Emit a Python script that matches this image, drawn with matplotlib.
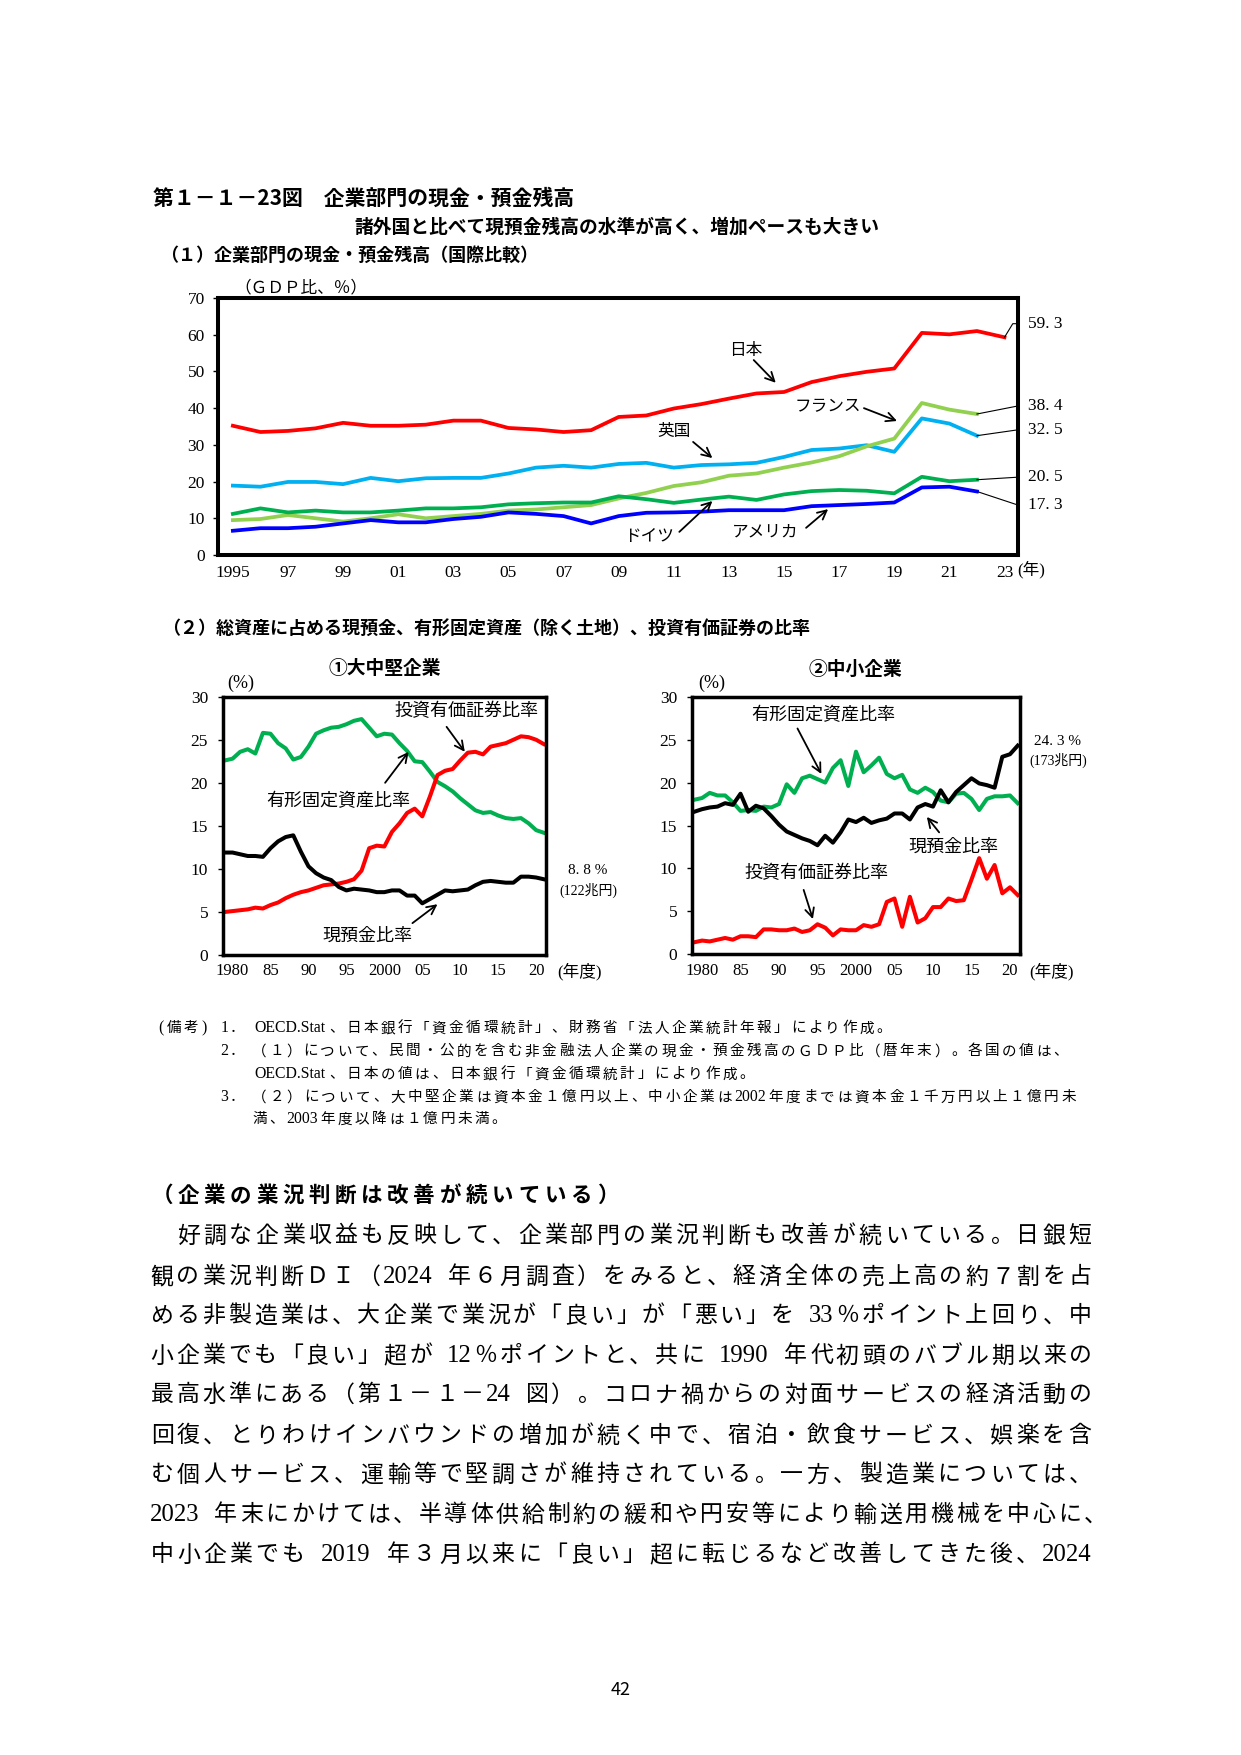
import matplotlib
matplotlib.use("Agg")
import matplotlib.pyplot as plt

plt.rcParams['font.family'] = ['Liberation Serif', 'Noto Sans CJK JP']
GOTHIC = ['Noto Sans CJK JP', 'DejaVu Sans']
MINCHO = ['Liberation Serif', 'Noto Sans CJK JP']

W, H = 1241, 1755

# (1) cash & deposits of the corporate sector, % of GDP (calendar year end)
years_intl = list(range(1995, 2024))
japan = [35.2, 33.5, 33.8, 34.5, 36.0, 35.2, 35.2, 35.5, 36.6, 36.6,
         34.6, 34.2, 33.5, 34.0, 37.6, 38.0, 39.9, 41.1, 42.6, 44.0,
         44.4, 47.1, 48.7, 49.9, 50.8, 60.5, 60.1, 61.0, 59.3]
uk = [18.9, 18.6, 19.9, 19.9, 19.3, 21.0, 20.1, 20.9, 21.0, 21.0,
      22.2, 23.8, 24.3, 23.8, 24.8, 25.1, 23.8, 24.5, 24.7, 25.1,
      26.7, 28.6, 29.0, 29.9, 28.1, 37.2, 35.8, 32.5]
france = [9.5, 9.8, 10.9, 10.0, 9.1, 10.0, 11.1, 10.0, 10.6, 11.2,
          12.1, 12.4, 13.0, 13.6, 15.4, 16.9, 18.8, 19.8, 21.6, 22.2,
          23.8, 25.2, 26.9, 29.6, 31.7, 41.4, 39.6, 38.4]
germany = [11.2, 12.7, 11.6, 12.1, 11.6, 11.6, 12.1, 12.7, 12.7, 13.0,
           13.8, 14.1, 14.3, 14.3, 16.0, 15.2, 14.2, 15.1, 15.9, 15.0,
           16.5, 17.4, 17.7, 17.5, 16.8, 21.3, 20.1, 20.5]
usa = [6.6, 7.3, 7.3, 7.7, 8.6, 9.5, 8.9, 8.9, 9.8, 10.4,
       11.6, 11.2, 10.6, 8.6, 10.6, 11.5, 11.6, 11.8, 12.2, 12.2,
       12.2, 13.3, 13.6, 13.9, 14.3, 18.4, 18.6, 17.3]
intl_ticks = list(range(1995, 2024, 2))
intl_ticklabels = ['1995'] + ['%02d' % (y % 100) for y in intl_ticks[1:]]

# (2) share of total assets, fiscal years 1980-2022
years_fy = list(range(1980, 2023))
large_cash = [11.9, 11.9, 11.7, 11.5, 11.5, 11.4, 12.4, 13.2, 13.7, 13.9,
              12.0, 10.3, 9.5, 9.0, 8.7, 7.9, 7.5, 7.7, 7.6, 7.5,
              7.3, 7.3, 7.5, 7.5, 6.9, 6.9, 6.0, 6.5, 7.0, 7.5,
              7.4, 7.5, 7.6, 8.1, 8.5, 8.6, 8.5, 8.4, 8.4, 9.1,
              9.1, 9.0, 8.8]
large_fixed = [22.6, 22.8, 23.6, 23.9, 23.4, 25.8, 25.7, 24.6, 24.0, 22.7,
               23.0, 24.2, 25.7, 26.1, 26.4, 26.5, 26.8, 27.2, 27.4, 26.4,
               25.4, 25.7, 25.6, 24.6, 23.7, 22.5, 22.4, 21.3, 20.1, 19.6,
               19.0, 18.2, 17.5, 16.8, 16.5, 16.6, 16.2, 15.9, 15.8, 15.9,
               15.3, 14.5, 14.2]
large_sec = [5.0, 5.1, 5.2, 5.3, 5.5, 5.4, 5.8, 6.1, 6.6, 7.0,
             7.3, 7.5, 7.8, 8.1, 8.2, 8.3, 8.5, 8.8, 9.8, 12.4,
             12.7, 12.6, 14.3, 15.3, 16.5, 17.0, 16.1, 18.4, 20.9, 21.4,
             21.6, 22.6, 23.5, 23.6, 23.3, 24.2, 24.4, 24.6, 25.0, 25.4,
             25.3, 25.0, 24.5]
small_cash = [16.6, 16.9, 17.1, 17.2, 17.6, 17.4, 18.7, 16.6, 17.3, 17.0,
              16.1, 15.1, 14.3, 13.9, 13.5, 13.2, 12.7, 13.8, 13.0, 14.2,
              15.7, 15.4, 15.9, 15.3, 15.6, 15.8, 16.4, 16.4, 15.7, 17.1,
              17.5, 17.2, 19.1, 17.7, 18.9, 19.7, 20.5, 19.9, 19.7, 19.4,
              23.0, 23.3, 24.3]
small_fixed = [18.0, 18.2, 18.8, 18.5, 18.5, 17.7, 16.7, 16.8, 16.7, 17.2,
               17.1, 17.5, 19.8, 18.8, 20.5, 20.8, 20.4, 20.0, 21.7, 22.6,
               19.6, 23.6, 21.2, 22.0, 22.9, 21.0, 20.5, 20.9, 19.2, 18.8,
               19.4, 18.9, 17.9, 17.7, 18.7, 18.8, 18.1, 16.8, 18.1, 18.4,
               18.4, 18.5, 17.6]
small_sec = [1.4, 1.6, 1.5, 1.7, 1.9, 1.7, 2.1, 2.1, 2.0, 2.9,
             2.9, 2.8, 2.8, 3.0, 2.6, 2.8, 3.5, 3.1, 2.2, 2.9,
             2.8, 2.8, 3.4, 3.2, 3.5, 6.1, 6.5, 3.2, 6.7, 3.7,
             4.2, 5.5, 5.5, 6.5, 6.2, 6.3, 8.7, 11.2, 8.8, 10.4,
             7.1, 7.8, 6.9]
fy_ticks = list(range(1980, 2021, 5))
fy_ticklabels = ['1980', '85', '90', '95', '2000', '05', '10', '15', '20']

notes = [
    ('(備考)', '1．', 'OECD.Stat、日本銀行「資金循環統計」、財務省「法人企業統計年報」により作成。'),
    ('', '2．', '（１）について、民間・公的を含む非金融法人企業の現金・預金残高のＧＤＰ比（暦年末）。各国の値は、'),
    ('', '', 'OECD.Stat、日本の値は、日本銀行「資金循環統計」により作成。'),
    ('', '3．', '（２）について、大中堅企業は資本金１億円以上、中小企業は2002年度までは資本金１千万円以上１億円未'),
    ('', '', '満、2003年度以降は１億円未満。'),
]

body_heading = '（企業の業況判断は改善が続いている）'
body_lines = [
    '　好調な企業収益も反映して、企業部門の業況判断も改善が続いている。日銀短',
    '観の業況判断ＤＩ（2024 年６月調査）をみると、経済全体の売上高の約７割を占',
    'める非製造業は、大企業で業況が「良い」が「悪い」を 33％ポイント上回り、中',
    '小企業でも「良い」超が 12％ポイントと、共に 1990 年代初頭のバブル期以来の',
    '最高水準にある（第１－１－24 図）。コロナ禍からの対面サービスの経済活動の',
    '回復、とりわけインバウンドの増加が続く中で、宿泊・飲食サービス、娯楽を含',
    'む個人サービス、運輸等で堅調さが維持されている。一方、製造業については、',
    '2023 年末にかけては、半導体供給制約の緩和や円安等により輸送用機械を中心に、',
    '中小企業でも 2019 年３月以来に「良い」超に転じるなど改善してきた後、2024',
]

RED, BLUE, SKY, LIME, GREEN = '#FF0000', '#0000FF', '#00B0F0', '#92D050', '#00B050'

fig = plt.figure(figsize=(W / 100, H / 100), dpi=100)


def box(l, t, r, b):
    return [l / W, 1 - b / H, (r - l) / W, (b - t) / H]


def ftext(x, y, s, size, **kw):
    fig.text(x / W, 1 - y / H, s, fontsize=size, **kw)


def tokens(s):
    # split into full-width chars, single spaces and runs of ascii
    out = []
    for c in s:
        half = ord(c) < 0x2000 and c != ' '
        if half and out and out[-1][1] == 'a':
            out[-1][0] += c
        else:
            out.append([c, 'a' if half else ('s' if c == ' ' else 'f')])
    return out


def char_line(x0, y, s, size, pitch=None, x1=None, family=MINCHO, weight='normal'):
    # lay out one line on a fixed grid: full-width = 1 cell, ascii = half
    toks = tokens(s)
    units = [1.0 if k == 'f' else 0.5 * len(t) for t, k in toks]
    if pitch is None:
        pitch = (x1 - x0) / sum(units)
    base = y + 0.37 * size * 100 / 72
    x = x0
    for (t, k), u in zip(toks, units):
        w = u * pitch
        if not t.isspace():
            fs = size * 1.08 if k == 'a' else size
            fig.text((x + w / 2) / W, 1 - base / H, t, ha='center', va='baseline',
                     fontsize=fs, family=family, weight=weight)
        x += w
    return pitch


def arrow(ax, tail, head):
    ax.annotate('', xy=head, xytext=tail,
                arrowprops=dict(arrowstyle='->', lw=1.3, color='black',
                                mutation_scale=16, shrinkA=0, shrinkB=0))


def fmt(v):
    return ('%.1f' % v).replace('.', '. ')


# ---- titles
ftext(153, 198, '第１－１－23図　企業部門の現金・預金残高', 15, family=GOTHIC,
      weight='bold', va='center')
ftext(354, 227, '諸外国と比べて現預金残高の水準が高く、増加ペースも大きい', 13.5,
      family=GOTHIC, weight='bold', va='center')
ftext(160, 255, '（１）企業部門の現金・預金残高（国際比較）', 13, family=GOTHIC,
      weight='bold', va='center')
ftext(234, 288, '（ＧＤＰ比、％）', 12, va='center')

# ---- (1) international comparison
ax = fig.add_axes(box(218, 298, 1018, 555))
series = [(japan, RED), (uk, SKY), (france, LIME), (germany, GREEN), (usa, BLUE)]
for vals, col in series:
    ax.plot(years_intl[:len(vals)], vals, color=col, lw=2.7)
ax.set_xlim(1994.46, 2023.49)
ax.set_ylim(0, 70)
ax.set_yticks(range(0, 71, 10))
ax.set_xticks(intl_ticks)
ax.set_xticklabels(intl_ticklabels)
ax.tick_params(axis='x', length=0, pad=7, labelsize=12.5)
ax.tick_params(axis='y', length=3.5, width=1, pad=6, labelsize=12.5)
for sp in ax.spines.values():
    sp.set_linewidth(2.9)

ax.text(2013.6, 55.6, '日本', fontsize=12, ha='center', va='center')
arrow(ax, (2013.9, 53.1), (2014.7, 46.9))
ax.text(2016.6, 40.3, 'フランス', fontsize=12, ha='center', va='center')
arrow(ax, (2017.9, 40.0), (2019.1, 36.5))
ax.text(2011.0, 33.5, '英国', fontsize=12, ha='center', va='center')
arrow(ax, (2011.7, 30.8), (2012.4, 26.4))
ax.text(2010.1, 4.9, 'ドイツ', fontsize=12, ha='center', va='center')
arrow(ax, (2011.2, 6.3), (2012.4, 14.7))
ax.text(2014.3, 6.0, 'アメリカ', fontsize=12, ha='center', va='center')
arrow(ax, (2015.8, 7.4), (2016.6, 12.5))

# end-value labels outside the frame
ax.plot([years_intl[len(japan) - 1], 2023.3, 2023.49], [japan[-1], 63.0, 63.0],
        color='black', lw=0.8, clip_on=False)
ax.text(2023.86, 63.0, fmt(japan[-1]), fontsize=12.5, va='center', ha='left')
for vals, ly in [(france, 40.6), (uk, 34.1), (germany, 21.2), (usa, 13.6)]:
    ax.plot([years_intl[len(vals) - 1], 2023.49], [vals[-1], ly], color='black',
            lw=0.8, clip_on=False)
    ax.text(2023.86, ly, fmt(vals[-1]), fontsize=12.5, va='center', ha='left')
ftext(1031, 570, '(年)', 12, ha='center', va='center')

# ---- (2) asset composition
ftext(162, 628, '（２）総資産に占める現預金、有形固定資産（除く土地）、投資有価証券の比率',
      13, family=GOTHIC, weight='bold', va='center')


def panel(rect, cash, fixed, sec):
    a = fig.add_axes(rect)
    a.plot(years_fy, fixed, color=GREEN, lw=2.9)
    a.plot(years_fy, sec, color=RED, lw=2.9)
    a.plot(years_fy, cash, color='black', lw=2.9)
    a.set_ylim(0, 30)
    a.set_yticks(range(0, 31, 5))
    # category labels sit one slot right of the point, as in the source
    a.set_xticks([y + 1 for y in fy_ticks])
    a.set_xticklabels(fy_ticklabels)
    a.tick_params(axis='x', length=0, pad=6, labelsize=12)
    a.tick_params(axis='y', length=3.5, width=1, pad=7, labelsize=12.5)
    for sp in a.spines.values():
        sp.set_linewidth(2.5)
    return a


axl = panel(box(222.7, 696.7, 546, 955), large_cash, large_fixed, large_sec)
axl.set_xlim(1979.7, 2022.3)
ftext(385, 668, '①大中堅企業', 13.5, family=GOTHIC, weight='bold', ha='center', va='center')
ftext(241, 683, '(%)', 13, ha='center', va='center')
ftext(580, 972, '(年度)', 12, ha='center', va='center')
ftext(588, 871, fmt(large_cash[-1]) + ' %', 11, ha='center', va='center')
ftext(588, 890, '(122兆円)', 10, ha='center', va='center')
axl.text(2011.8, 28.3, '投資有価証券比率', fontsize=13, ha='center', va='center')
arrow(axl, (2009.2, 26.5), (2011.6, 23.6))
axl.text(1994.9, 17.8, '有形固定資産比率', fontsize=13, ha='center', va='center')
arrow(axl, (2001.1, 20.0), (2004.2, 23.6))
axl.text(1998.8, 2.2, '現預金比率', fontsize=13, ha='center', va='center')
arrow(axl, (2004.7, 3.7), (2008.0, 5.9))

axr = panel(box(691.7, 696.7, 1020, 954.3), small_cash, small_fixed, small_sec)
axr.set_xlim(1979.66, 2022.3)
ftext(855, 669, '②中小企業', 13.5, family=GOTHIC, weight='bold', ha='center', va='center')
ftext(712, 683, '(%)', 13, ha='center', va='center')
ftext(1052, 972, '(年度)', 12, ha='center', va='center')
ftext(1058, 741, fmt(small_cash[-1]) + ' %', 11, ha='center', va='center')
ftext(1058, 760, '(173兆円)', 10, ha='center', va='center')
axr.text(1996.7, 27.8, '有形固定資産比率', fontsize=13, ha='center', va='center')
arrow(axr, (1993.4, 26.3), (1996.5, 21.0))
axr.text(2013.6, 12.5, '現預金比率', fontsize=13, ha='center', va='center')
arrow(axr, (2011.8, 14.2), (2010.2, 16.0))
axr.text(1995.9, 9.4, '投資有価証券比率', fontsize=13, ha='center', va='center')
arrow(axr, (1994.2, 7.5), (1995.4, 4.1))

# ---- notes
note_y = [1027, 1050, 1073, 1096, 1118]
note_end = {1: 1069, 3: 1077}
for i, (lead, num, txt) in enumerate(notes):
    y = note_y[i]
    if lead:
        char_line(157, y, lead, 10.5, pitch=17)
    if num:
        char_line(220, y, num, 10.5, pitch=17)
    if i in note_end:
        char_line(251, y, txt, 10.5, x1=note_end[i])
    else:
        char_line(251, y, txt, 10.5, pitch=17.1)

# ---- body text
char_line(149, 1194, body_heading, 15.5, pitch=26.2, family=GOTHIC, weight='bold')
line_y = [1234, 1275, 1314, 1354, 1393, 1434, 1473, 1513, 1553]
for s, y in zip(body_lines, line_y):
    right = 1108 if s.endswith('に、') else 1093
    char_line(149, y, s, 16.5, x1=right)

ftext(621, 1690, '42', 13, family=GOTHIC, ha='center', va='center')

fig.savefig('out.png', dpi=100)
